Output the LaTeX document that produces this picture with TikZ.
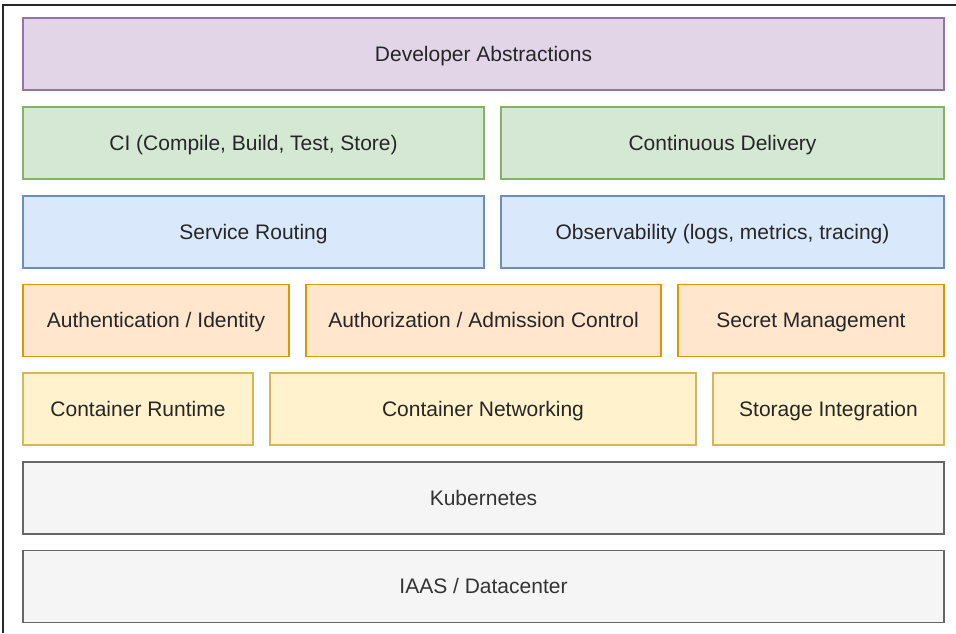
\documentclass[tikz,border=0pt]{standalone}
\usepackage{fontspec}
\setmainfont{Liberation Sans}
\definecolor{purplefill}{HTML}{E1D5E7}\definecolor{purpleline}{HTML}{9673A6}
\definecolor{greenfill}{HTML}{D5E8D4}\definecolor{greenline}{HTML}{82B366}
\definecolor{bluefill}{HTML}{DAE8FC}\definecolor{blueline}{HTML}{6C8EBF}
\definecolor{orangefill}{HTML}{FFE6CC}\definecolor{orangeline}{HTML}{D79B00}
\definecolor{yellowfill}{HTML}{FFF2CC}\definecolor{yellowline}{HTML}{D6B656}
\definecolor{grayfill}{HTML}{F5F5F5}\definecolor{grayline}{HTML}{666666}
\definecolor{graytext}{HTML}{333333}
\begin{document}
\begin{tikzpicture}[x=0.5pt,y=-0.5pt,font=\fontsize{10.5}{12}\selectfont,
    layer/.style={draw,line width=0.9pt,minimum height=36pt,inner sep=0pt,
      text height=8.4pt,text depth=1pt,text=black!85},
    purplebox/.style={layer,fill=purplefill,draw=purpleline},
    greenbox/.style={layer,fill=greenfill,draw=greenline},
    bluebox/.style={layer,fill=bluefill,draw=blueline},
    orangebox/.style={layer,fill=orangefill,draw=orangeline},
    yellowbox/.style={layer,fill=yellowfill,draw=yellowline},
    graybox/.style={layer,fill=grayfill,draw=grayline,text=graytext}]
            \useasboundingbox (0,0) rectangle (956,633);
            \draw[line width=0.8pt,black!85] (3,633) -- (3,5) -- (956,5);
            % top of the stack
            \node[purplebox,minimum width=460.5pt] (dev) at (483.5,54) {Developer Abstractions};
            \node[greenbox,minimum width=230.5pt] (ci) at (253.5,143) {CI (Compile, Build, Test, Store)};
            \node[greenbox,minimum width=221.5pt] (cd) at (722.5,143) {Continuous Delivery};
            \node[bluebox,minimum width=230.5pt] (routing) at (253.5,232) {Service Routing};
            \node[bluebox,minimum width=221.5pt] (observ) at (722.5,232) {Observability (logs, metrics, tracing)};
            % security
            \node[orangebox,minimum width=133pt] (authn) at (156,320.5) {Authentication / Identity};
            \node[orangebox,minimum width=177.5pt] (authz) at (483.5,320.5) {Authorization / Admission Control};
            \node[orangebox,minimum width=133pt] (secret) at (811,320.5) {Secret Management};
            % container layer
            \node[yellowbox,minimum width=115pt] (runtime) at (138,409) {Container Runtime};
            \node[yellowbox,minimum width=213pt] (network) at (483,409) {Container Networking};
            \node[yellowbox,minimum width=115.5pt] (storage) at (828.5,409) {Storage Integration};
            % platform
            \node[graybox,minimum width=460.5pt] (k8s) at (483.5,498) {Kubernetes};
            \node[graybox,minimum width=460.5pt] (iaas) at (483.5,586.5) {IAAS / Datacenter};
        \end{tikzpicture}
\end{document}
